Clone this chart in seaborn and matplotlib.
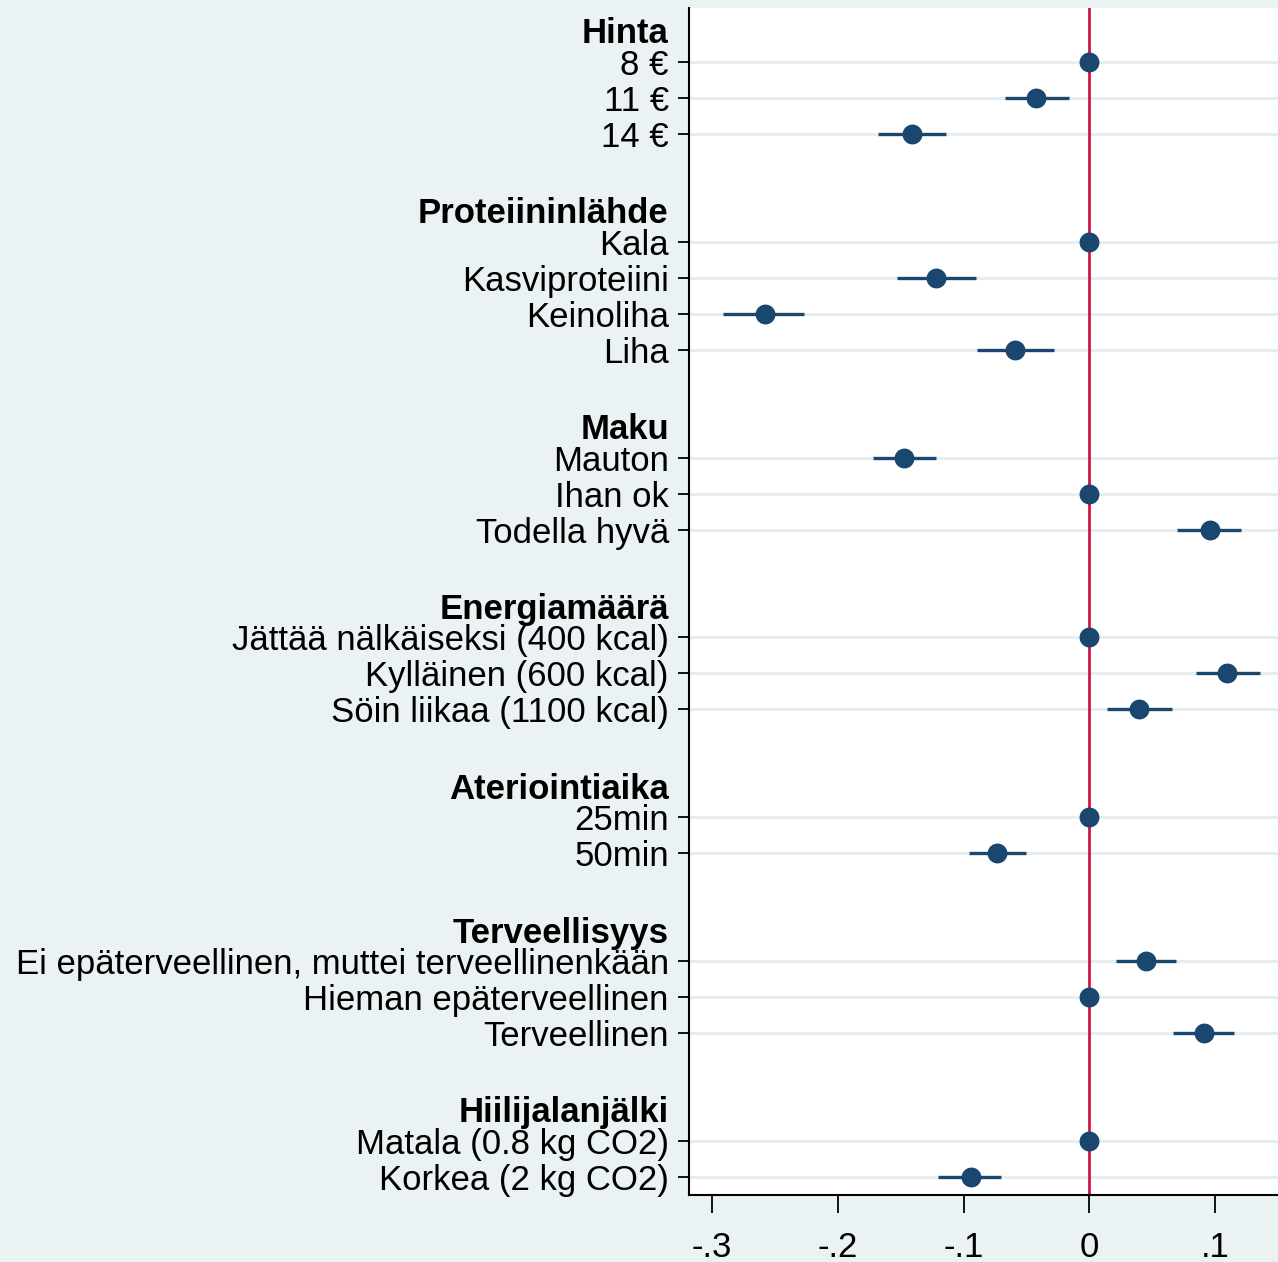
import numpy as np
import pandas as pd
import matplotlib
matplotlib.use("Agg")
import matplotlib.pyplot as plt
import matplotlib.transforms as mtransforms
import seaborn as sns

# group headings and the number of levels in each group
groups = ["Hinta", "Proteiininlähde", "Maku", "Energiamäärä",
          "Ateriointiaika", "Terveellisyys", "Hiilijalanjälki"]
group_sizes = [3, 4, 3, 3, 2, 3, 2]

labels = ["8 €", "11 €", "14 €",
          "Kala", "Kasviproteiini", "Keinoliha", "Liha",
          "Mauton", "Ihan ok", "Todella hyvä",
          "Jättää nälkäiseksi (400 kcal)", "Kylläinen (600 kcal)", "Söin liikaa (1100 kcal)",
          "25min", "50min",
          "Ei epäterveellinen, muttei terveellinenkään", "Hieman epäterveellinen", "Terveellinen",
          "Matala (0.8 kg CO2)", "Korkea (2 kg CO2)"]

coef = [0.0, -0.042, -0.141,
        0.0, -0.122, -0.258, -0.059,
        -0.147, 0.0, 0.096,
        0.0, 0.110, 0.040,
        0.0, -0.073,
        0.045, 0.0, 0.091,
        0.0, -0.094]
ci_low = [0.0, -0.067, -0.168,
          0.0, -0.153, -0.291, -0.089,
          -0.172, 0.0, 0.070,
          0.0, 0.085, 0.014,
          0.0, -0.096,
          0.021, 0.0, 0.067,
          0.0, -0.120]
ci_high = [0.0, -0.016, -0.114,
           0.0, -0.090, -0.227, -0.028,
           -0.122, 0.0, 0.121,
           0.0, 0.136, 0.066,
           0.0, -0.050,
           0.069, 0.0, 0.115,
           0.0, -0.070]

# row positions: heading slot + levels + one empty slot per group
pos = []
head_pos = []
p = 0
for n in group_sizes:
    head_pos.append(p + 0.22)
    pos.extend(range(p + 1, p + 1 + n))
    p += n + 2

df = pd.DataFrame({"label": labels, "coef": coef, "lo": ci_low, "hi": ci_high, "pos": pos})

bg = "#EAF2F3"
navy = "#1A476F"

sns.set_style("white")
plt.rcParams["font.family"] = ["Liberation Sans", "DejaVu Sans"]
plt.rcParams["text.color"] = "black"
plt.rcParams["xtick.color"] = "black"
plt.rcParams["ytick.color"] = "black"

fig = plt.figure(figsize=(12.78, 12.62), dpi=100, facecolor=bg)
ax = fig.add_axes([689 / 1278, 1 - 1195 / 1262, 1 - 689 / 1278, (1195 - 8) / 1262])
ax.set_facecolor("white")

for y in df["pos"]:
    ax.axhline(y, color="#E6EEF0", lw=2.2, zorder=0)
ax.axvline(0, color="#CC1744", lw=2, zorder=1)

ax.hlines(df["pos"], df["lo"], df["hi"], color=navy, lw=2.4, zorder=2)
sns.scatterplot(data=df, x="coef", y="pos", ax=ax, color=navy, s=205,
                edgecolor=navy, linewidth=0, zorder=3, legend=False)

ax.set_xlim(-0.3184, 0.1502)
ax.set_ylim(32.5, -0.5)
ax.set_xticks([-0.3, -0.2, -0.1, 0, 0.1])
ax.set_xticklabels(["-.3", "-.2", "-.1", "0", ".1"])
ax.set_yticks(df["pos"])
ax.set_yticklabels(df["label"])
ax.set_xlabel("")
ax.set_ylabel("")

fs = 25
ax.tick_params(axis="y", length=8, width=1.3, pad=6.5, labelsize=fs, direction="out", left=True,
               colors="black")
ax.tick_params(axis="x", length=13, width=1.3, pad=13, labelsize=fs, direction="out", bottom=True,
               colors="black")

for s in ["top", "right"]:
    ax.spines[s].set_visible(False)
for s in ["left", "bottom"]:
    ax.spines[s].set_color("black")
    ax.spines[s].set_linewidth(1.5)

# bold group headings, right-aligned with the tick labels
trans = mtransforms.blended_transform_factory(ax.transAxes, ax.transData)
offset = mtransforms.ScaledTranslation(-(8 + 6.5) / 72, 0, fig.dpi_scale_trans)
for name, y in zip(groups, head_pos):
    ax.text(0, y, name, transform=trans + offset, ha="right", va="center",
            fontsize=fs, fontweight="bold", color="black")

fig.savefig("out.png", dpi=100, facecolor=bg)
